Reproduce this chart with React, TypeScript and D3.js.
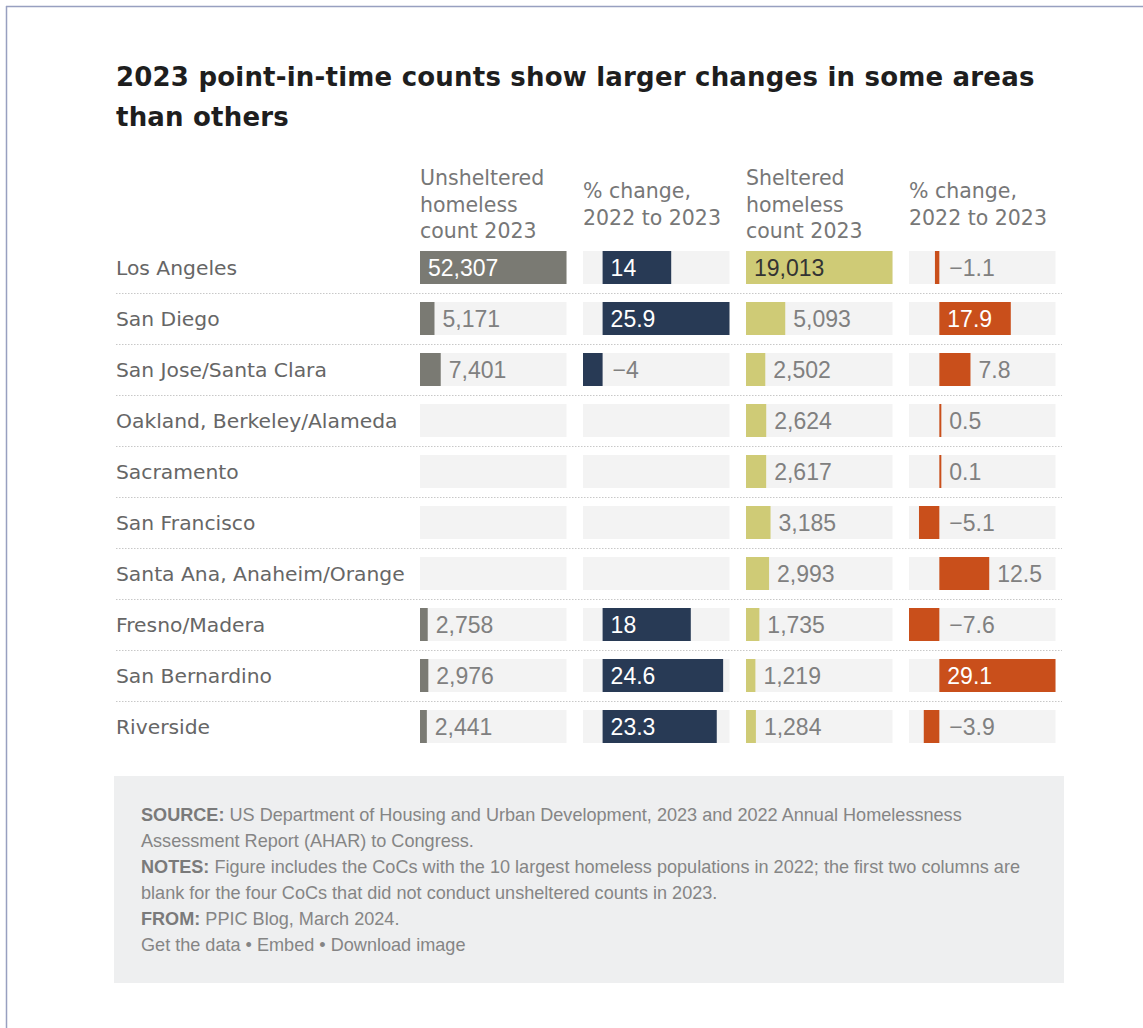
import React from "react";
import * as d3 from "d3";

const regions = [
  "Los Angeles",
  "San Diego",
  "San Jose/Santa Clara",
  "Oakland, Berkeley/Alameda",
  "Sacramento",
  "San Francisco",
  "Santa Ana, Anaheim/Orange",
  "Fresno/Madera",
  "San Bernardino",
  "Riverside",
];
const unsheltered: (number | null)[] = [52307, 5171, 7401, null, null, null, null, 2758, 2976, 2441];
const unshelteredChange: (number | null)[] = [14, 25.9, -4, null, null, null, null, 18, 24.6, 23.3];
const sheltered: (number | null)[] = [19013, 5093, 2502, 2624, 2617, 3185, 2993, 1735, 1219, 1284];
const shelteredChange: (number | null)[] = [-1.1, 17.9, 7.8, 0.5, 0.1, -5.1, 12.5, -7.6, 29.1, -3.9];

const columnHeaders = [
  ["Unsheltered", "homeless", "count 2023"],
  ["% change,", "2022 to 2023"],
  ["Sheltered", "homeless", "count 2023"],
  ["% change,", "2022 to 2023"],
];

const title = ["2023 point-in-time counts show larger changes in some areas", "than others"];

const W = 1143;
const H = 1028;
const GEO = "'DejaVu Sans', 'Open Sans', sans-serif";
const ARIAL = "'Liberation Sans', Arial, sans-serif";

let measureCtx: CanvasRenderingContext2D | null = null;
function textWidth(s: string, font: string) {
  if (!measureCtx) measureCtx = document.createElement("canvas").getContext("2d");
  if (!measureCtx) return s.length * 11;
  measureCtx.font = font;
  return measureCtx.measureText(s).width;
}

const countFmt = d3.format(",");
const pctFmt = d3.format("");

type Col = {
  values: (number | null)[];
  color: string;
  insideText: string;
  fmt: (v: number) => string;
};

const columns: Col[] = [
  { values: unsheltered, color: "#7a7a73", insideText: "#ffffff", fmt: (v) => countFmt(v) },
  { values: unshelteredChange, color: "#283a55", insideText: "#ffffff", fmt: (v) => pctFmt(v) },
  { values: sheltered, color: "#cfcb76", insideText: "#333333", fmt: (v) => countFmt(v) },
  { values: shelteredChange, color: "#c94f1b", insideText: "#ffffff", fmt: (v) => pctFmt(v) },
];

const colX = [420, 583, 746, 909];
const colW = 146.5;
const rowStep = 51;
const barH = 33;
const rowTop = 251;

export default function App() {
  const y = d3
    .scaleBand<string>()
    .domain(regions)
    .range([rowTop, rowTop + rowStep * regions.length - (rowStep - barH)])
    .paddingInner((rowStep - barH) / rowStep)
    .paddingOuter(0);

  const valueFont = `23px 'Liberation Sans', Arial, sans-serif`;

  return (
    <div>
      <style>{`body{margin:0;background:#fff}`}</style>
      <svg width={W} height={H} style={{ display: "block" }}>
        <rect x={0} y={0} width={W} height={H} fill="#ffffff" />
        <line x1={6} x2={W} y1={6.5} y2={6.5} stroke="#98a0c0" strokeWidth={1.5} />
        <line x1={6.5} x2={6.5} y1={6} y2={H} stroke="#98a0c0" strokeWidth={1.5} />

        {title.map((t, i) => (
          <text
            key={i}
            x={116}
            y={86 + i * 39.5}
            fontFamily={GEO}
            fontWeight={700}
            fontSize={26}
            letterSpacing={0.2}
            fill="#1e1e1e"
          >
            {t}
          </text>
        ))}

        {columnHeaders.map((lines, ci) =>
          lines.map((ln, li) => (
            <text
              key={`${ci}-${li}`}
              x={colX[ci]}
              y={(lines.length === 3 ? 185 : 198) + li * 26.5}
              fontFamily={GEO}
              fontSize={20.5}
              fill="#777777"
            >
              {ln}
            </text>
          ))
        )}

        {regions.map((r, i) => {
          const yy = y(r)!;
          return (
            <g key={r}>
              <text x={116} y={yy + barH / 2 + 7} fontFamily={GEO} fontSize={20.3} fill="#666666">
                {r}
              </text>
              {i < regions.length - 1 && (
                <line
                  x1={116}
                  x2={1062}
                  y1={yy + barH + 9.5}
                  y2={yy + barH + 9.5}
                  stroke="#c8c8c8"
                  strokeWidth={1}
                  strokeDasharray="1.5,1.5"
                />
              )}
            </g>
          );
        })}

        {columns.map((col, ci) => {
          const vals = col.values.filter((v) => v != null) as number[];
          const ext = d3.extent([0, ...vals]) as [number, number];
          const x = d3.scaleLinear().domain(ext).range([colX[ci], colX[ci] + colW]);
          const zero = x(0);
          return (
            <g key={ci}>
              {regions.map((r, i) => {
                const yy = y(r)!;
                const v = col.values[i];
                return (
                  <g key={r}>
                    <rect x={colX[ci]} y={yy} width={colW} height={barH} fill="#f3f3f3" />
                    {v != null &&
                      (() => {
                        const x0 = Math.min(zero, x(v));
                        const x1 = Math.max(zero, x(v));
                        const bw = Math.max(x1 - x0, 2);
                        const label = col.fmt(v);
                        const tw = textWidth(label, valueFont);
                        const inside = v > 0 && x1 - zero >= tw + 18;
                        const tx = inside ? zero + 8 : Math.max(zero + (v >= 0 ? bw : 2), zero) + 8;
                        return (
                          <>
                            <rect x={x0} y={yy} width={bw} height={barH} fill={col.color} />
                            <text
                              x={tx}
                              y={yy + barH / 2 + 8}
                              fontFamily={ARIAL}
                              fontSize={23}
                              fill={inside ? col.insideText : "#808080"}
                            >
                              {label}
                            </text>
                          </>
                        );
                      })()}
                  </g>
                );
              })}
            </g>
          );
        })}

        <rect x={114} y={776} width={950} height={207} fill="#eeeff0" />
        <g fontFamily={ARIAL} fontSize={18.1} fill="#858585">
          <text x={141} y={821}>
            <tspan fontWeight={700} fill="#7a7a7a">SOURCE:</tspan> US Department of Housing and Urban Development, 2023 and 2022 Annual Homelessness
          </text>
          <text x={141} y={847}>Assessment Report (AHAR) to Congress.</text>
          <text x={141} y={873}>
            <tspan fontWeight={700} fill="#7a7a7a">NOTES:</tspan> Figure includes the CoCs with the 10 largest homeless populations in 2022; the first two columns are
          </text>
          <text x={141} y={899}>blank for the four CoCs that did not conduct unsheltered counts in 2023.</text>
          <text x={141} y={925}>
            <tspan fontWeight={700} fill="#7a7a7a">FROM:</tspan> PPIC Blog, March 2024.
          </text>
          <text x={141} y={951}>Get the data • Embed • Download image</text>
        </g>
      </svg>
    </div>
  );
}
